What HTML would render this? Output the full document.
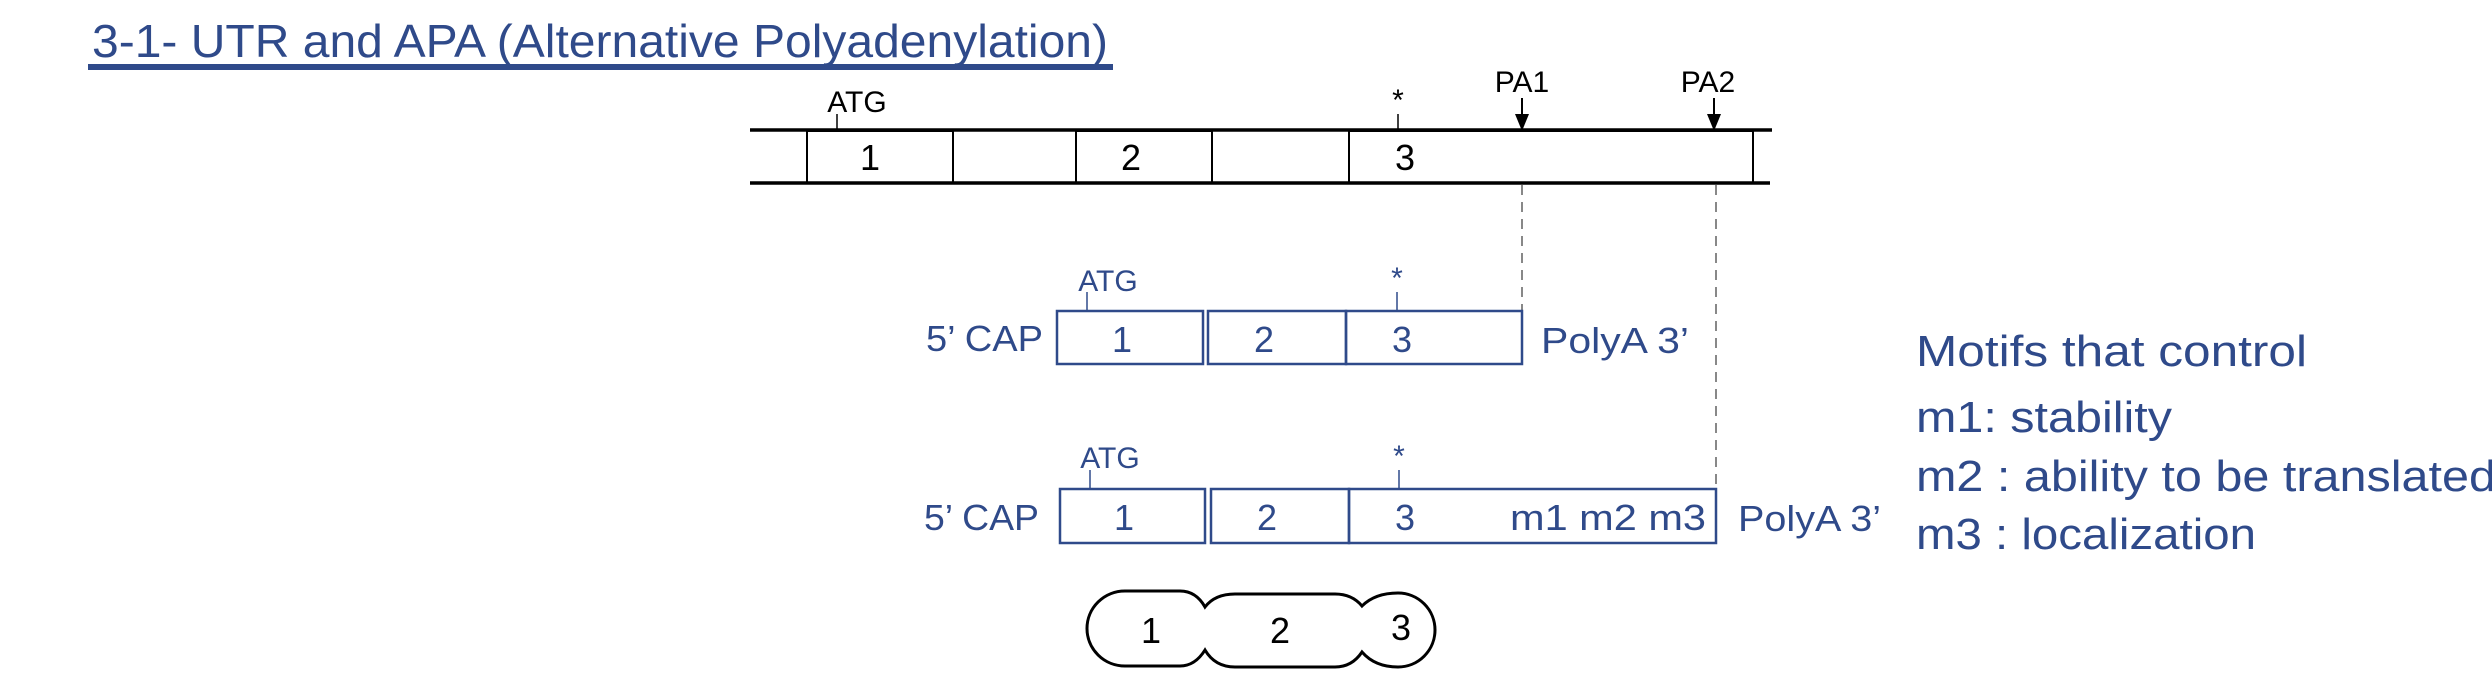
<!DOCTYPE html>
<html><head><meta charset="utf-8"><style>
html,body{margin:0;padding:0;background:#fff;}
svg{display:block;}
text{font-family:"Liberation Sans",sans-serif;}
</style></head><body>
<svg width="2492" height="686" viewBox="0 0 2492 686" xmlns="http://www.w3.org/2000/svg">
<!-- Title -->
<text x="92" y="57" font-size="46" fill="#2F4A8A" textLength="1016" lengthAdjust="spacingAndGlyphs">3-1- UTR and APA (Alternative Polyadenylation)</text>
<rect x="88" y="64" width="1025" height="6" fill="#2F4A8A"/>

<!-- Gene -->
<g stroke="#000" fill="none">
<line x1="750" y1="130" x2="1772" y2="130" stroke-width="3.5"/>
<line x1="750" y1="183" x2="1770" y2="183" stroke-width="3.5"/>
<rect x="807" y="131" width="146" height="52" stroke-width="2"/>
<rect x="1076" y="131" width="136" height="52" stroke-width="2"/>
<rect x="1349" y="131" width="404" height="52" stroke-width="2"/>
<line x1="837" y1="114" x2="837" y2="130" stroke-width="1.5"/>
<line x1="1398" y1="114" x2="1398" y2="130" stroke-width="1.5"/>
<line x1="1522" y1="98" x2="1522" y2="116" stroke-width="2"/>
<line x1="1714" y1="98" x2="1714" y2="116" stroke-width="2"/>
</g>
<polygon points="1515,114 1529,114 1522,131" fill="#000"/>
<polygon points="1707,114 1721,114 1714,131" fill="#000"/>
<g fill="#000" text-anchor="middle">
<text x="857" y="112" font-size="30">ATG</text>
<text x="1398" y="110" font-size="30">*</text>
<text x="1522" y="92" font-size="30">PA1</text>
<text x="1708" y="92" font-size="30">PA2</text>
<text x="870" y="170" font-size="36">1</text>
<text x="1131" y="170" font-size="36">2</text>
<text x="1405" y="170" font-size="36">3</text>
</g>

<!-- dashed -->
<g stroke="#888" stroke-width="2" stroke-dasharray="10,7">
<line x1="1522" y1="185" x2="1522" y2="310"/>
<line x1="1716" y1="185" x2="1716" y2="489"/>
</g>

<!-- mRNA 1 -->
<g stroke="#2F4A8A" fill="none" stroke-width="2.5">
<rect x="1057" y="311" width="146" height="53"/>
<rect x="1208" y="311" width="138" height="53"/>
<rect x="1346" y="311" width="176" height="53"/>
<line x1="1087" y1="292" x2="1087" y2="311" stroke-width="1.5"/>
<line x1="1397" y1="292" x2="1397" y2="311" stroke-width="1.5"/>
</g>
<g fill="#2F4A8A" font-size="36">
<text x="1108" y="291" font-size="30" text-anchor="middle">ATG</text>
<text x="1397" y="288" font-size="30" text-anchor="middle">*</text>
<text x="926" y="351" textLength="117" lengthAdjust="spacingAndGlyphs">5’ CAP</text>
<text x="1541" y="353" textLength="148" lengthAdjust="spacingAndGlyphs">PolyA 3’</text>
<text x="1122" y="352" text-anchor="middle">1</text>
<text x="1264" y="352" text-anchor="middle">2</text>
<text x="1402" y="352" text-anchor="middle">3</text>
</g>

<!-- mRNA 2 -->
<g stroke="#2F4A8A" fill="none" stroke-width="2.5">
<rect x="1060" y="489" width="145" height="54"/>
<rect x="1211" y="489" width="138" height="54"/>
<rect x="1349" y="489" width="367" height="54"/>
<line x1="1090" y1="470" x2="1090" y2="489" stroke-width="1.5"/>
<line x1="1399" y1="470" x2="1399" y2="489" stroke-width="1.5"/>
</g>
<g fill="#2F4A8A" font-size="36">
<text x="1110" y="468" font-size="30" text-anchor="middle">ATG</text>
<text x="1399" y="466" font-size="30" text-anchor="middle">*</text>
<text x="924" y="530" textLength="115" lengthAdjust="spacingAndGlyphs">5’ CAP</text>
<text x="1738" y="531" textLength="143" lengthAdjust="spacingAndGlyphs">PolyA 3’</text>
<text x="1124" y="530" text-anchor="middle">1</text>
<text x="1267" y="530" text-anchor="middle">2</text>
<text x="1405" y="530" text-anchor="middle">3</text>
<text x="1510" y="530" textLength="196" lengthAdjust="spacingAndGlyphs">m1 m2 m3</text>
</g>

<!-- Motifs -->
<g fill="#2F4A8A" font-size="44">
<text x="1916" y="366" textLength="391" lengthAdjust="spacingAndGlyphs">Motifs that control</text>
<text x="1916" y="432" textLength="256" lengthAdjust="spacingAndGlyphs">m1: stability</text>
<text x="1916" y="491" textLength="580" lengthAdjust="spacingAndGlyphs">m2 : ability to be translated</text>
<text x="1916" y="549" textLength="340" lengthAdjust="spacingAndGlyphs">m3 : localization</text>
</g>

<!-- protein -->
<path d="M1125 591 H1180 Q1196 591 1205 607 Q1215 594 1235 594 H1335 Q1352 594 1362 606 Q1375 593 1398 593 A37 37 0 0 1 1398 667 Q1375 667 1362 652 Q1352 667 1335 667 H1235 Q1215 667 1205 650 Q1195 666 1180 666 H1125 A38 37.5 0 0 1 1125 591 Z" fill="none" stroke="#000" stroke-width="3"/>
<g font-size="36" fill="#000" text-anchor="middle">
<text x="1151" y="643">1</text>
<text x="1280" y="643">2</text>
<text x="1401" y="640">3</text>
</g>
</svg>
</body></html>
